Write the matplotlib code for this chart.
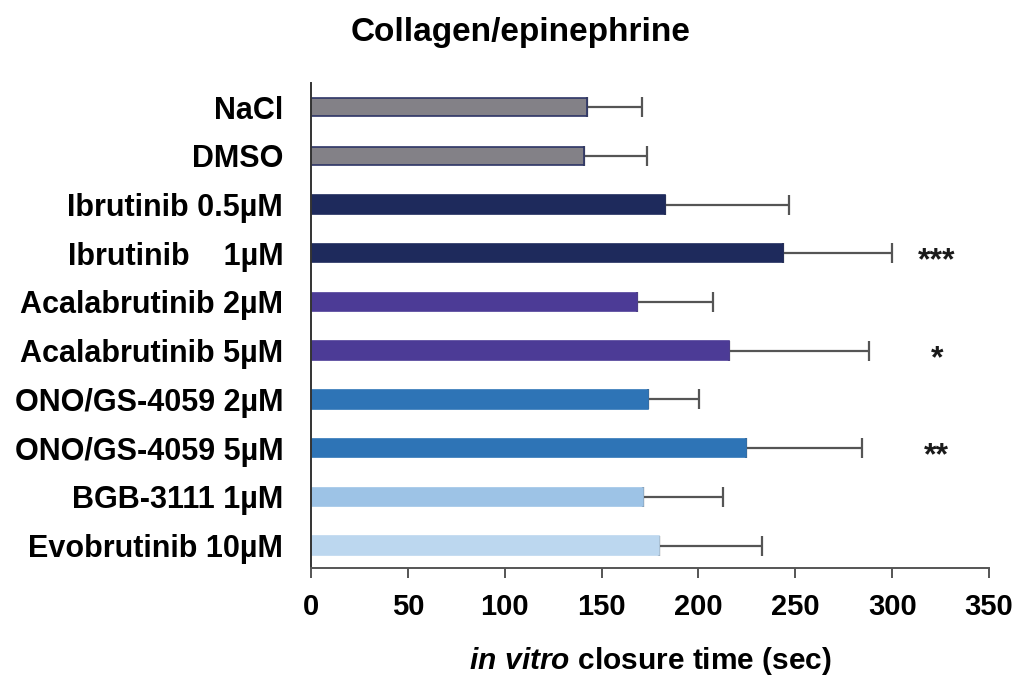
import numpy as np
import matplotlib.pyplot as plt

# closure times (sec), mean and upper SD
groups = ['NaCl', 'DMSO', 'Ibrutinib 0.5µM', 'Ibrutinib    1µM',
          'Acalabrutinib 2µM', 'Acalabrutinib 5µM', 'ONO/GS-4059 2µM',
          'ONO/GS-4059 5µM', 'BGB-3111 1µM', 'Evobrutinib 10µM']
means = [142.3, 140.8, 182.8, 243.7, 168.1, 216.0, 173.8, 224.4, 171.6, 179.8]
upper = [170.7, 173.3, 246.8, 300.1, 207.7, 288.2, 200.5, 284.5, 212.9, 232.7]
colors = ['#838187', '#838187', '#1e2a5c', '#1e2a5c', '#4c3b96', '#4c3b96',
          '#2e74b6', '#2e74b6', '#9dc3e6', '#bcd7ef']
edges = ['#2d3566', '#2d3566', '#1e2a5c', '#1e2a5c', '#4c3b96', '#4c3b96',
         '#2e74b6', '#2e74b6', '#9dc3e6', '#bcd7ef']
stars = {3: '***', 5: '*', 7: '**'}

plt.rcParams['font.family'] = ['Liberation Sans', 'DejaVu Sans']
plt.rcParams['font.weight'] = 'bold'
plt.rcParams['mathtext.fontset'] = 'custom'
plt.rcParams['mathtext.it'] = 'Liberation Sans:italic:bold'

fig = plt.figure(figsize=(10.21, 6.75), dpi=100)
ax = fig.add_axes([0.3046, 0.1585, 0.6641, 0.719])

y = np.arange(len(groups))
err = np.array(upper) - np.array(means)
ax.barh(y, means, height=0.38, color=colors, edgecolor=edges, linewidth=1.2, zorder=2)
ax.errorbar(means, y, xerr=[np.zeros(len(err)), err], fmt='none',
            ecolor='#555555', elinewidth=1.6, capsize=7, capthick=1.6, zorder=1)

for i, s in stars.items():
    ax.text(323, i + 0.17, s, ha='center', va='center', fontsize=23,
            fontweight='bold', color='#1a1a1a')

ax.set_xlim(0, 350)
ax.set_ylim(9.46, -0.5)
ax.set_xticks(np.arange(0, 351, 50))
ax.set_yticks(y)
ax.set_yticklabels(groups, fontsize=22, fontweight='bold')
ax.tick_params(axis='y', length=0, pad=20)
ax.tick_params(axis='x', length=7, width=1.4, color='#555555', labelsize=21, pad=11)
for lbl in ax.get_xticklabels():
    lbl.set_fontweight('bold')

for side in ['top', 'right']:
    ax.spines[side].set_visible(False)
ax.spines['left'].set_color('#333333')
ax.spines['bottom'].set_color('#555555')
ax.spines['left'].set_linewidth(1.4)
ax.spines['bottom'].set_linewidth(1.4)

ax.set_xlabel(r'$\mathit{in\ vitro}$ closure time (sec)', fontsize=21.5,
              fontweight='bold', labelpad=17)
fig.text(0.51, 0.952, 'Collagen/epinephrine', ha='center', va='center',
         fontsize=24, fontweight='bold')

fig.savefig('out.png', dpi=100)
